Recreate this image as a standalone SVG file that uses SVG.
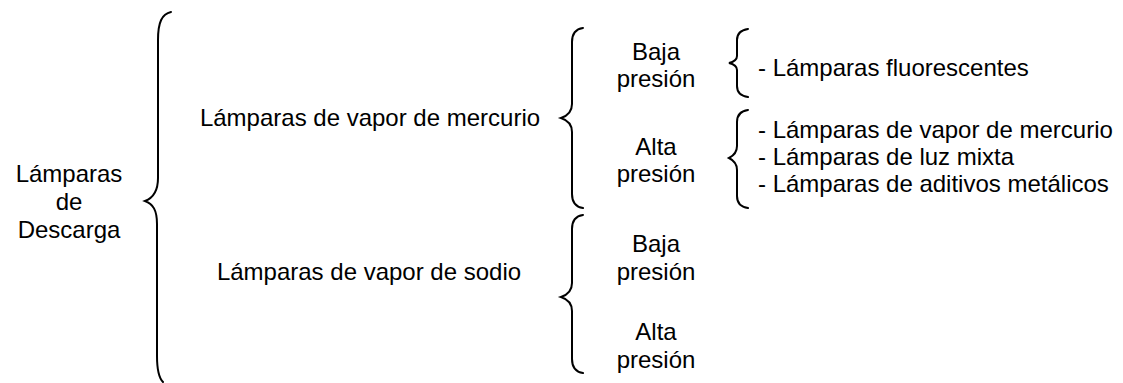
<svg xmlns="http://www.w3.org/2000/svg" width="1123" height="383" viewBox="0 0 1123 383">
<style>
text{font-family:"Liberation Sans",Arial,sans-serif;font-size:24px;fill:#000}
.c{text-anchor:middle}
.b{fill:none;stroke:#000;stroke-width:2;stroke-linecap:round}
</style>
<rect width="1123" height="383" fill="#fff"/>
<g id="root">
<text class="c" x="69" y="182">Lámparas</text>
<text class="c" x="69" y="210">de</text>
<text class="c" x="69" y="238">Descarga</text>
</g>
<g id="mercurio">
<text class="c" x="370" y="126">Lámparas de vapor de mercurio</text>
</g>
<g id="sodio">
<text class="c" x="369" y="280">Lámparas de vapor de sodio</text>
</g>
<g id="hg-baja">
<text class="c" x="656" y="60">Baja</text>
<text class="c" x="656" y="87">presión</text>
</g>
<g id="hg-alta">
<text class="c" x="656" y="155">Alta</text>
<text class="c" x="656" y="182">presión</text>
</g>
<g id="na-baja">
<text class="c" x="656" y="252">Baja</text>
<text class="c" x="656" y="280">presión</text>
</g>
<g id="na-alta">
<text class="c" x="656" y="340">Alta</text>
<text class="c" x="656" y="368">presión</text>
</g>
<g id="list-baja">
<text x="758" y="76">- Lámparas fluorescentes</text>
</g>
<g id="list-alta">
<text x="758" y="138">- Lámparas de vapor de mercurio</text>
<text x="758" y="165">- Lámparas de luz mixta</text>
<text x="758" y="192">- Lámparas de aditivos metálicos</text>
</g>
<g id="connectors">
<path class="b" d="M171,12 C162,14 158,22 158,40 L158,178 C158,192 153,198 145,201 C153,204 157,210 157,224 L157,356 C157,370 159,378 163,382"/>
<path class="b" d="M583,28 C576,29 572,34 572,42 L572,104 C572,112 567,116 561,118 C567,120 572,124 572,132 L572,194 C572,202 576,207 583,208"/>
<path class="b" d="M583,215 C576,216 572,221 572,229 L572,283 C572,291 567,295 561,297 C567,299 572,303 572,311 L572,359 C572,367 576,372 583,373"/>
<path class="b" d="M748,29 C741,30 737,34 737,40 L737,56 C737,60 733,62 729,63 C733,64 737,66 737,70 L737,86 C737,92 741,96 748,97"/>
<path class="b" d="M748,110 C741,111 737,115 737,122 L737,146 C737,152 733,156 729,158 C733,160 737,164 737,170 L737,196 C737,203 741,207 748,208"/>
</g>
</svg>
